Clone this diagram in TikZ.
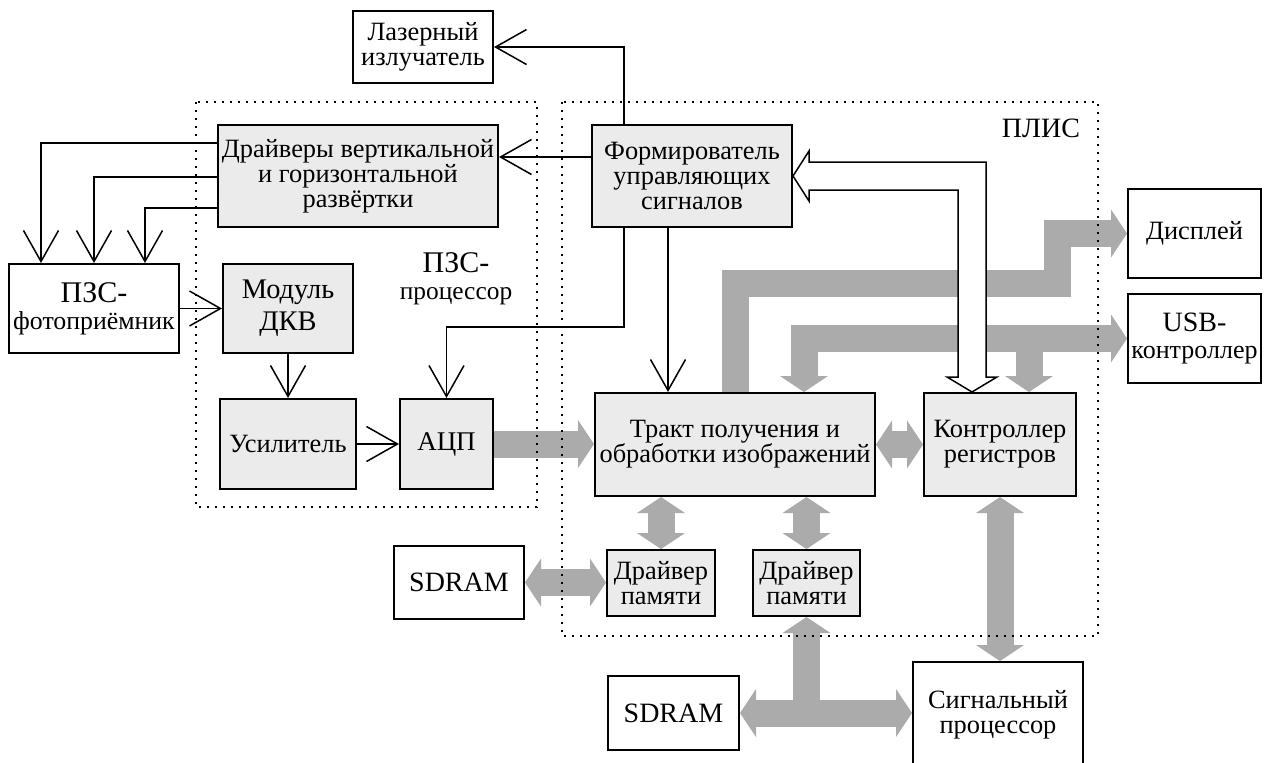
\documentclass[tikz,border=0pt]{standalone}
\usepackage{fontspec}
\setmainfont{Liberation Serif}
\usetikzlibrary{arrows.meta,calc,backgrounds}
\definecolor{boxgray}{gray}{0.92}
\definecolor{busgray}{gray}{0.67}
\tikzstyle{blk}=[
  draw,line width=1pt,fill=boxgray,align=center,inner sep=1pt,
  font=\fontsize{13.2}{12.6}\selectfont
]
\tikzstyle{ext}=[blk,fill=white]
\tikzstyle{sig}=[
  line width=0.75pt,>={Straight Barb[length=15.5pt,width=17.5pt]},->
]
\tikzstyle{bus}=[
  draw=busgray,line width=13.5pt,line join=miter,
  >={Triangle[length=8pt,width=24pt,line width=0pt]},->
]
\tikzstyle{region}=[draw,line width=1pt,dash pattern=on 1pt off 3pt]
\tikzstyle{hollow}=[draw,fill=white,line width=0.75pt,line join=miter]

\begin{document}
\begin{tikzpicture}[x=0.5pt,y=-0.5pt]
    \useasboundingbox (0,0) rectangle (1264,762);
    % blocks
    \node[ext,minimum width=70pt,minimum height=36pt] (laser) at (423,47) {Лазерный\\излучатель};
    \node[blk,minimum width=140pt,minimum height=51pt] (drivers) at (358,176) {Драйверы вертикальной\\и горизонтальной\\развёртки};
    \node[blk,minimum width=100pt,minimum height=51pt] (former) at (692,176) {Формирователь\\управляющих\\сигналов};
    \node[ext,minimum width=85pt,minimum height=44.5pt,font=\fontsize{12.9}{13.5}\selectfont] (ccd) at (94,308.5)
        {{\fontsize{15}{15}\selectfont ПЗС-}\\фотоприёмник};
    \node[blk,minimum width=65pt,minimum height=44.5pt,font=\fontsize{14.2}{16}\selectfont] (dkv) at (288,308.5) {Модуль\\ДКВ};
    \node[blk,minimum width=68pt,minimum height=45pt] (amp) at (288,444) {Усилитель};
    \node[blk,minimum width=46.5pt,minimum height=45pt,font=\fontsize{13.5}{13.5}\selectfont] (adc) at (446.5,444) {АЦП};
    \node[blk,minimum width=140pt,minimum height=51.5pt] (tract) at (735,444.5) {Тракт получения и\\обработки изображений};
    \node[blk,minimum width=76pt,minimum height=51.5pt] (regctl) at (1000,444.5) {Контроллер\\регистров};
    \node[ext,minimum width=66.5pt,minimum height=44.5pt] (display) at (1194.5,233.5) {Дисплей};
    \node[ext,minimum width=66.5pt,minimum height=44.5pt,font=\fontsize{13}{13.5}\selectfont] (usb) at (1194.5,338.5)
        {{\fontsize{14}{14}\selectfont USB-}\\контроллер};
    \node[ext,minimum width=65pt,minimum height=36.5pt,font=\fontsize{14}{14}\selectfont] (sdramA) at (459,582.5) {SDRAM};
    \node[blk,minimum width=54pt,minimum height=33pt] (memA) at (661,583) {Драйвер\\памяти};
    \node[blk,minimum width=53.5pt,minimum height=33pt] (memB) at (806.5,583) {Драйвер\\памяти};
    \node[ext,minimum width=65.5pt,minimum height=37pt,font=\fontsize{14}{14}\selectfont] (sdramB) at (673.5,713) {SDRAM};
    \node[ext,minimum width=85pt,minimum height=53pt] (dsp) at (998,715) {Сигнальный\\процессор};
    % region labels
    \node[align=center,font=\fontsize{12.7}{13.5}\selectfont] (ccdproc) at (456,279) {{\fontsize{15}{15}\selectfont ПЗС-}\\процессор};
    \node[font=\fontsize{14}{14}\selectfont] (fpga) at (1041,128) {ПЛИС};
    % data buses
    \begin{scope}[on background layer]
    \draw[bus] (adc.east) -- (adc.east -| tract.west);
    \draw[bus,<->] (sdramA.east) -- (sdramA.east -| memA.west);
    \draw[bus,<->] (memA.north |- tract.south) -- (memA.north);
    \draw[bus,<->] (memB.north |- tract.south) -- (memB.north);
    \draw[bus,<->] (tract.east) -- (regctl.west);
    \draw[bus,<->] (regctl.south) -- (regctl.south |- dsp.north);
    \draw[bus] (tract.north) |- (1057,283) |- (display.west);
    \draw[bus,<->] (usb.west) -| ($(tract.north)+(69,0)$);
    \draw[bus] (usb.west -| 1029,0) -- (regctl.north -| 1029,0);
    \draw[bus,<-] (memB.south) -- (memB.south |- sdramB.east);
    \draw[bus,<->] (sdramB.east) -- (sdramB.east -| dsp.west);
    \end{scope}
    % control bus
    \draw[hollow] (former.east) -- (809,151) -- (809,162) -- (986,162) -- (986,377) -- (997,377)
        -- ($(regctl.north)+(-28,0)$) -- (947,377) -- (958,377) -- (958,190) -- (809,190) -- (809,201) -- cycle;
    % control signals
    \draw[sig] (624,0 |- former.north) |- (laser.east);
    \draw[sig] (former.west |- 0,157) -- (drivers.east |- 0,157);
    \foreach \y/\x in {143/41,177/94,208/145}
        \draw[sig] (drivers.west |- 0,\y) -| (\x,0 |- ccd.north);
    \draw[sig] (ccd) -- (dkv);
    \draw[sig] (dkv) -- (amp);
    \draw[sig] (amp) -- (adc);
    \draw[sig] (624,0 |- former.south) -- (624,327) -| (adc.north);
    \draw[sig] (668,0 |- former.south) -- (668,0 |- tract.north);
    % regions
    \draw[region] (196,102) rectangle (537,507);
    \draw[region] (562,102) rectangle (1098,636);
\end{tikzpicture}
\end{document}
